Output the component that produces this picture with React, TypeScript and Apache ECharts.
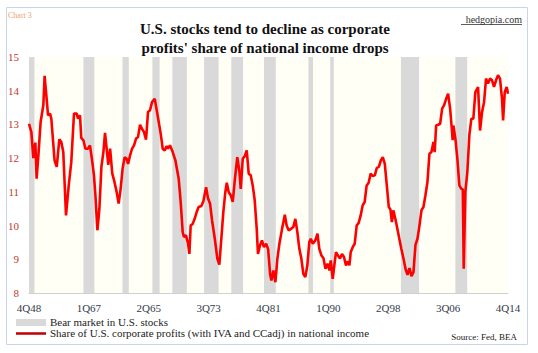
import React, { useEffect, useRef } from "react";
import * as echarts from "echarts";

// Quarter index counted from 4Q48 (0) to 4Q14 (264)
const tickLabels = ["4Q48", "1Q67", "2Q65", "3Q73", "4Q81", "1Q90", "2Q98", "3Q06", "4Q14"];

// Bear markets in U.S. stocks (start / end, quarter index from 4Q48)
const bearStart = [0, 30, 51.5, 68, 79, 96.5, 111.5, 129.5, 154, 166, 205, 235];
const bearEnd = [3, 36, 55, 72, 87, 104.5, 118, 136, 156.5, 168, 215, 241.5];

// Share of U.S. corporate profits (with IVA and CCadj) in national income, %
const profitQ = [
  0, 1.3, 2.4, 3.5, 4.2, 5.3, 6.4, 7.9, 8.6, 9.4, 10.5, 11.6, 12.3, 14.1, 15.3, 16.7, 17.8, 18.9, 20.4, 21.9,
  23.3, 24.8, 26.3, 27, 28.1, 28.8, 30, 31.1, 32.5, 33.6, 34.9, 35.8, 36.6, 37.7, 38.8, 39.9, 41, 41.9, 42.8, 43.7,
  44.7, 45.9, 46.9, 48.3, 49.4, 50.5, 51.6, 52.7, 53.8, 54.6, 55.7, 56.8, 57.9, 59, 60.1, 61.2, 62.3, 63.4, 64.5, 65.6,
  66.7, 67.8, 69.3, 70.4, 71.5, 72.6, 73.7, 74.8, 75.9, 76.6, 77.7, 79.2, 80.7, 82.5, 83.6, 84.7, 85.4, 86.5, 87.7, 88.4,
  89.1, 90.2, 91.3, 92.4, 93.5, 95, 96.1, 97.6, 98.7, 99.8, 100.9, 102.4, 103.8, 104.9, 106, 107.1, 108.2, 109, 110.1, 111.2,
  112.3, 113.4, 114.8, 116, 116.7, 117.8, 118.9, 120, 121.1, 122.2, 123.3, 124.4, 125.5, 126.2, 127.3, 128.4, 129.5, 130.7, 131.8, 132.9,
  133.6, 134.7, 135.8, 136.9, 138, 139.5, 141, 142, 143.1, 144.6, 145.7, 146.8, 147.9, 149, 150.1, 151.2, 152.3, 153.4, 154.5, 155.3,
  156.4, 157.8, 159, 160, 161.2, 162.3, 163.4, 164.5, 165.6, 166.3, 167.4, 168.5, 169.2, 170.3, 171.4, 172.5, 173.6, 174.7, 175.8, 176.6,
  177.3, 178.4, 179.5, 180.6, 181.7, 182.8, 183.9, 185, 186.1, 187.2, 188.3, 189.4, 190.6, 191.7, 192.8, 193.9, 195, 196.1, 197.2, 198.3,
  199.2, 200, 200.8, 201.9, 203, 204.1, 205.2, 206.4, 207.5, 208.6, 209.7, 210.8, 211.9, 213, 214.1, 215.2, 216.3, 217.4, 218.5, 219.6,
  220.7, 221.8, 222.9, 223.6, 224.4, 225.5, 226.6, 227.7, 228.8, 229.9, 231, 232.1, 232.8, 233.5, 233.9, 235, 236.1, 237.2, 238.3, 239.1,
  239.6, 240.5, 241.6, 242.7, 243.8, 244.9, 246, 247.5, 248.6, 249.7, 250.8, 251.9, 253, 254.1, 255.2, 256.3, 257.4, 258.5, 259.6, 260.7,
  261.3, 262.2, 263.3, 264,
];
const profitShare = [
  13.02, 12.77, 12.0, 12.46, 11.39, 12.18, 13.07, 13.57, 14.44, 13.96, 13.27, 13.32, 13.17, 11.93, 11.74, 12.56, 12.48, 12.18, 10.3, 11.19,
  11.88, 13.32, 13.32, 13.17, 13.27, 12.6, 12.53, 12.28, 12.28, 12.38, 11.88, 11.49, 10.9, 9.86, 10.5, 11.74, 12.18, 12.75, 12.28, 11.8,
  12.28, 11.54, 11.34, 11.0, 10.65, 11.09, 11.69, 12.03, 11.98, 11.83, 12.08, 12.28, 12.38, 12.58, 12.63, 12.99, 12.87, 12.77, 12.55, 13.37,
  13.42, 13.66, 13.76, 13.42, 13.07, 12.72, 12.28, 12.23, 12.36, 12.28, 12.38, 12.18, 11.93, 11.39, 10.7, 9.81, 9.66, 9.71, 9.46, 9.16,
  10.0, 10.05, 10.2, 10.4, 10.55, 10.58, 10.72, 11.14, 10.8, 10.65, 10.15, 9.61, 9.02, 8.84, 9.61, 10.4, 10.99, 11.27, 10.99, 10.9,
  10.7, 11.34, 12.03, 11.59, 11.09, 11.98, 12.06, 12.23, 11.54, 11.49, 11.19, 10.75, 9.91, 9.16, 9.41, 9.56, 9.36, 9.46, 9.3, 8.55,
  8.37, 8.67, 8.32, 9.02, 9.46, 9.91, 10.32, 10.0, 9.86, 9.91, 9.96, 10.2, 9.81, 9.31, 9.02, 8.57, 8.47, 8.82, 9.51, 9.61,
  9.46, 9.56, 9.76, 9.31, 9.11, 9.03, 8.72, 8.87, 8.67, 8.97, 8.42, 8.92, 9.21, 9.11, 9.02, 9.16, 9.07, 8.82, 8.94, 8.82,
  9.21, 9.36, 9.46, 10.0, 10.08, 10.3, 10.6, 10.7, 11.19, 11.27, 11.54, 11.47, 11.49, 11.71, 11.74, 11.93, 12.03, 11.83, 11.19, 10.55,
  10.48, 10.1, 10.45, 10.2, 9.91, 9.61, 9.31, 9.02, 8.72, 8.54, 8.74, 8.5, 8.62, 9.43, 9.61, 10.0, 10.45, 10.55, 10.9, 11.29,
  12.13, 12.18, 12.48, 12.18, 12.97, 12.99, 13.02, 13.47, 13.57, 13.76, 13.91, 13.47, 13.02, 12.53, 12.97, 12.58, 11.98, 11.19, 11.09, 11.07,
  8.72, 11.0, 11.59, 12.68, 13.17, 13.17, 13.96, 14.11, 12.82, 13.37, 13.66, 14.36, 14.21, 14.36, 14.31, 14.11, 14.31, 14.46, 14.36, 13.76,
  13.12, 13.96, 14.11, 13.91,
];

const SERIF = "'Liberation Serif', 'DejaVu Serif', serif";

export default function App() {
  const ref = useRef<HTMLDivElement>(null);
  useEffect(() => {
    if (!ref.current) return;
    const chart = echarts.init(ref.current, null, { renderer: "svg" });
    chart.setOption({
      animation: false,
      backgroundColor: "#ffffff",
      grid: {
        left: 29,
        right: 30,
        top: 57,
        bottom: 60,
        show: true,
        backgroundColor: "#fffff6",
        borderWidth: 0,
      },
      xAxis: {
        type: "value",
        min: 0,
        max: 264,
        interval: 33,
        axisLine: { show: true, lineStyle: { color: "#d0d0d0", width: 1 } },
        axisTick: { show: false },
        splitLine: { show: false },
        axisLabel: {
          margin: 9,
          color: "#333a4a",
          fontFamily: SERIF,
          fontSize: 11,
          formatter: (v: number) => {
            const k = Math.round(v / 33);
            return Math.abs(v - k * 33) < 0.01 ? tickLabels[k] ?? "" : "";
          },
        },
      },
      yAxis: {
        type: "value",
        min: 8,
        max: 15,
        interval: 1,
        axisLine: { show: false },
        axisTick: { show: false },
        splitLine: { show: false },
        axisLabel: { margin: 10, color: "#c0392b", fontFamily: SERIF, fontSize: 11 },
      },
      series: [
        {
          type: "line",
          data: [],
          z: 1,
          markArea: {
            silent: true,
            itemStyle: { color: "#d9d9d9" },
            data: bearStart.map((s, i) => [{ xAxis: s }, { xAxis: bearEnd[i] }]),
          },
        },
        {
          type: "line",
          z: 3,
          data: profitQ.map((q, i) => [q, profitShare[i]]),
          showSymbol: false,
          lineStyle: { color: "#ff0000", width: 2.6 },
          itemStyle: { color: "#ff0000" },
        },
      ],
      graphic: [
        {
          type: "rect",
          z: -10,
          shape: { x: 6.5, y: 7.5, width: 521, height: 337 },
          style: { fill: "none", stroke: "#c6d6e8", lineWidth: 1 },
        },
        {
          type: "text",
          x: 8,
          y: 15,
          style: { text: "Chart 3", fill: "#f2a06a", font: `8px ${SERIF}`, textVerticalAlign: "middle" },
        },
        {
          type: "text",
          x: 522,
          y: 19,
          style: { text: "hedgopia.com", fill: "#333333", font: `10px ${SERIF}`, textAlign: "right", textVerticalAlign: "middle" },
        },
        {
          type: "line",
          shape: { x1: 461, y1: 24.5, x2: 522, y2: 24.5 },
          style: { stroke: "#333333", lineWidth: 0.8 },
        },
        {
          type: "text",
          x: 265,
          y: 29,
          style: {
            text: "U.S. stocks tend to decline as corporate",
            fill: "#111111",
            font: `bold 15px ${SERIF}`,
            textAlign: "center",
            textVerticalAlign: "middle",
          },
        },
        {
          type: "text",
          x: 265,
          y: 48,
          style: {
            text: "profits' share of national income drops",
            fill: "#111111",
            font: `bold 15px ${SERIF}`,
            textAlign: "center",
            textVerticalAlign: "middle",
          },
        },
        {
          type: "rect",
          shape: { x: 16, y: 319, width: 30, height: 7 },
          style: { fill: "#d9d9d9" },
        },
        {
          type: "text",
          x: 50,
          y: 322,
          style: { text: "Bear market in U.S. stocks", fill: "#222222", font: `11px ${SERIF}`, textVerticalAlign: "middle" },
        },
        {
          type: "line",
          shape: { x1: 16, y1: 333.5, x2: 46, y2: 333.5 },
          style: { stroke: "#c00000", lineWidth: 2.5 },
        },
        {
          type: "text",
          x: 50,
          y: 333,
          style: {
            text: "Share of U.S. corporate profits (with IVA and CCadj) in national income",
            fill: "#222222",
            font: `11px ${SERIF}`,
            textVerticalAlign: "middle",
          },
        },
        {
          type: "text",
          x: 517,
          y: 337,
          style: { text: "Source: Fed, BEA", fill: "#222222", font: `9px ${SERIF}`, textAlign: "right", textVerticalAlign: "middle" },
        },
      ],
    });
    return () => chart.dispose();
  }, []);
  return (
    <div
      ref={ref}
      style={{ position: "fixed", left: 0, top: 0, width: 538, height: 353 }}
    />
  );
}
